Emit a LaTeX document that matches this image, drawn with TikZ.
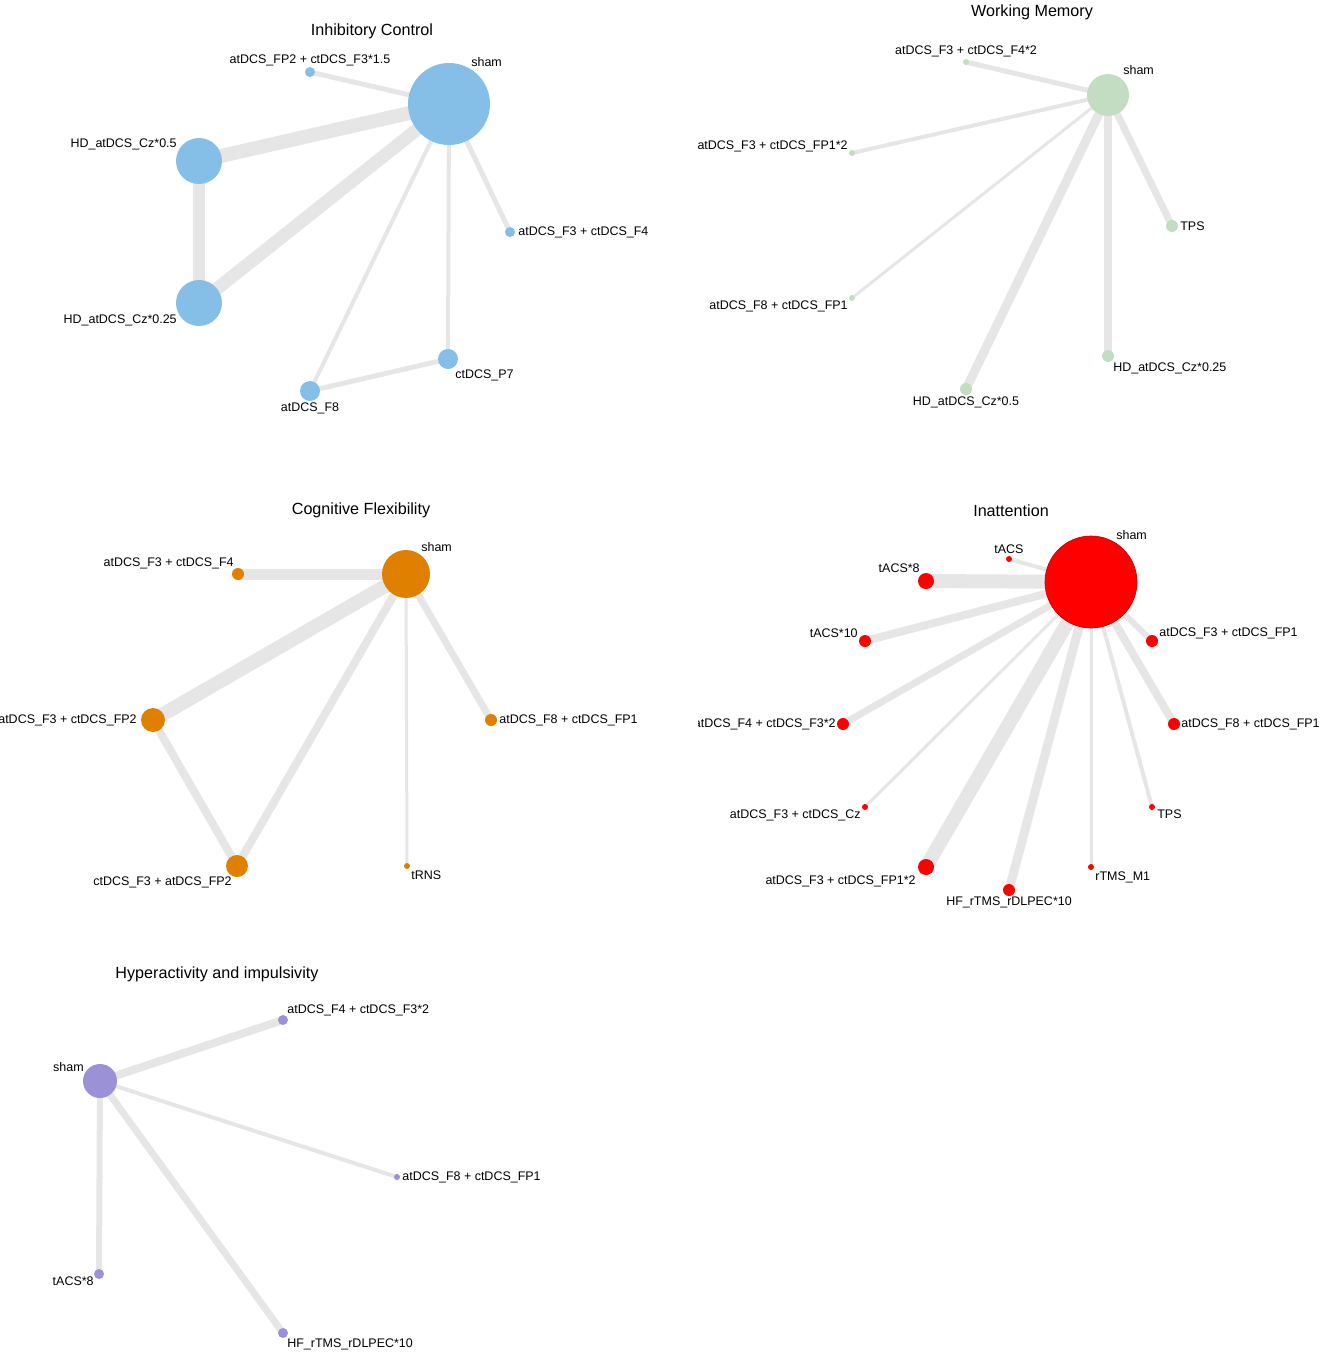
\documentclass[tikz,border=0pt]{standalone}
\usepackage{fontspec}
\setmainfont{Liberation Sans}
\usepackage{xcolor}
\definecolor{icblue}{HTML}{85BFE8}
\definecolor{wmgreen}{HTML}{C2DDC2}
\definecolor{cforange}{HTML}{E08000}
\definecolor{inred}{HTML}{FF0000}
\definecolor{hipurple}{HTML}{9A91D6}
\definecolor{edgegray}{HTML}{E6E6E6}
\usetikzlibrary{backgrounds}
\tikzset{
  dot/.style    ={circle,inner sep=0pt,minimum size=#1*0.04cm},
  icnode/.style ={dot=#1,fill=icblue},
  wmnode/.style ={dot=#1,fill=wmgreen},
  cfnode/.style ={dot=#1,fill=cforange},
  innode/.style ={dot=#1,fill=inred},
  hinode/.style ={dot=#1,fill=hipurple},
  link/.style   ={draw=edgegray,line width=#1*0.02cm},
  lbl/.style    ={font=\fontsize{7.1}{8.5}\selectfont,inner sep=0pt},
  ttl/.style    ={font=\fontsize{9.2}{11}\selectfont,inner sep=0pt},
}

\begin{document}
\begin{tikzpicture}[x=0.02cm,y=-0.02cm]
\useasboundingbox (0,0) rectangle (1325,1360);
% Inhibitory Control
\node[ttl] (ictitle) at (372,31) {Inhibitory Control};
\node[icnode=41] (icsham) at (449,104) {};
\node[icnode=5]  (icfp2)  at (310,72) {};
\node[icnode=23] (ichda)  at (199,161) {};
\node[icnode=23] (ichdb)  at (199,303) {};
\node[icnode=5]  (icff)   at (510,232) {};
\node[icnode=10] (icpseven) at (448,359) {};
\node[icnode=10] (icfeight) at (310,391) {};
\node[lbl,anchor=west] (icshaml) at (471,62) {sham};
\node[lbl] (icfp2l) at (310,60) {atDCS\_FP2 + ctDCS\_F3*1.5};
\node[lbl,anchor=east] (ichdal) at (177,144) {HD\_atDCS\_Cz*0.5};
\node[lbl,anchor=east] (ichdbl) at (177,320) {HD\_atDCS\_Cz*0.25};
\node[lbl,anchor=west] (icffl) at (518,232) {atDCS\_F3 + ctDCS\_F4};
\node[lbl,anchor=west] (icpsevenl) at (455,375) {ctDCS\_P7};
\node[lbl] (icfeightl) at (310,408) {atDCS\_F8};
\begin{scope}[on background layer]
\draw[link=5]  (icsham.center) -- (icfp2.center);
\draw[link=14] (icsham.center) -- (ichda.center);
\draw[link=13] (icsham.center) -- (ichdb.center);
\draw[link=12] (ichda.center) -- (ichdb.center);
\draw[link=5]  (icsham.center) -- (icff.center);
\draw[link=4]  (icsham.center) -- (icpseven.center);
\draw[link=4]  (icsham.center) -- (icfeight.center);
\draw[link=5]  (icfeight.center) -- (icpseven.center);
\end{scope}

% Working Memory
\node[ttl] (wmtitle) at (1032,12) {Working Memory};
\node[wmnode=21] (wmsham) at (1108,95) {};
\node[wmnode=3]  (wmff)   at (966,62) {};
\node[wmnode=3]  (wmfpa)  at (852,153) {};
\node[wmnode=3]  (wmfeight) at (852,298) {};
\node[wmnode=6]  (wmhda)  at (966,389) {};
\node[wmnode=6]  (wmhdb)  at (1108,356) {};
\node[wmnode=6]  (wmtps)  at (1172,226) {};
\node[lbl,anchor=west] (wmshaml) at (1123,70) {sham};
\node[lbl] (wmffl) at (966,51) {atDCS\_F3 + ctDCS\_F4*2};
\node[lbl,anchor=east] (wmfpal) at (848,146) {atDCS\_F3 + ctDCS\_FP1*2};
\node[lbl,anchor=east] (wmfeightl) at (848,306) {atDCS\_F8 + ctDCS\_FP1};
\node[lbl] (wmhdal) at (966,402) {HD\_atDCS\_Cz*0.5};
\node[lbl,anchor=west] (wmhdbl) at (1113,368) {HD\_atDCS\_Cz*0.25};
\node[lbl,anchor=west] (wmtpsl) at (1180,226) {TPS};
\begin{scope}[on background layer]
\draw[link=5] (wmsham.center) -- (wmff.center);
\draw[link=4] (wmsham.center) -- (wmfpa.center);
\draw[link=3] (wmsham.center) -- (wmfeight.center);
\draw[link=9] (wmsham.center) -- (wmhda.center);
\draw[link=8] (wmsham.center) -- (wmhdb.center);
\draw[link=7] (wmsham.center) -- (wmtps.center);
\end{scope}

% Cognitive Flexibility
\node[ttl] (cftitle) at (361,510) {Cognitive Flexibility};
\node[cfnode=24] (cfsham) at (406,574) {};
\node[cfnode=6]  (cfff)   at (238,574) {};
\node[cfnode=12] (cffp)   at (153,720) {};
\node[cfnode=11] (cfct)   at (237,866) {};
\node[cfnode=6]  (cffeight) at (491,720) {};
\node[cfnode=3]  (cftrns) at (407,866) {};
\node[lbl,anchor=west] (cfshaml) at (421,547) {sham};
\node[lbl,anchor=east] (cfffl) at (234,563) {atDCS\_F3 + ctDCS\_F4};
\node[lbl,anchor=east] (cffpl) at (137,720) {atDCS\_F3 + ctDCS\_FP2};
\node[lbl,anchor=east] (cfctl) at (232,882) {ctDCS\_F3 + atDCS\_FP2};
\node[lbl,anchor=west] (cffeightl) at (499,720) {atDCS\_F8 + ctDCS\_FP1};
\node[lbl,anchor=west] (cftrnsl) at (411,875) {tRNS};
\begin{scope}[on background layer]
\draw[link=11] (cfsham.center) -- (cfff.center);
\draw[link=14] (cfsham.center) -- (cffp.center);
\draw[link=8]  (cfsham.center) -- (cfct.center);
\draw[link=3]  (cfsham.center) -- (cftrns.center);
\draw[link=7]  (cfsham.center) -- (cffeight.center);
\draw[link=8]  (cffp.center) -- (cfct.center);
\end{scope}

% Inattention
\begin{scope}
\clip (698,490) rectangle (1325,930);
\node[ttl] (intitle) at (1011,511) {Inattention};
\node[innode=46,draw=red!80!black,line width=0.4pt] (insham) at (1091,582) {};
\node[innode=3]  (intacs) at (1009,559) {};
\node[innode=8]  (intacsa) at (926,581) {};
\node[innode=6]  (intacsb) at (865,641) {};
\node[innode=6]  (inff)   at (843,724) {};
\node[innode=3]  (incz)   at (865,807) {};
\node[innode=8]  (infpa)  at (926,867) {};
\node[innode=6]  (inhf)   at (1009,890) {};
\node[innode=3]  (inrtms) at (1091,867) {};
\node[innode=3]  (intps)  at (1152,807) {};
\node[innode=6]  (infeight) at (1174,724) {};
\node[innode=6]  (inffp)  at (1152,641) {};
\node[lbl,anchor=west] (inshaml) at (1116,535) {sham};
\node[lbl] (intacsl) at (1009,549) {tACS};
\node[lbl,anchor=east] (intacsal) at (920,568) {tACS*8};
\node[lbl,anchor=east] (intacsbl) at (858,633) {tACS*10};
\node[lbl,anchor=east] (inffl) at (836,724) {atDCS\_F4 + ctDCS\_F3*2};
\node[lbl,anchor=east] (inczl) at (861,815) {atDCS\_F3 + ctDCS\_Cz};
\node[lbl,anchor=east] (infpal) at (916,881) {atDCS\_F3 + ctDCS\_FP1*2};
\node[lbl] (inhfl) at (1009,902) {HF\_rTMS\_rDLPEC*10};
\node[lbl,anchor=west] (inrtmsl) at (1095,877) {rTMS\_M1};
\node[lbl,anchor=west] (intpsl) at (1157,814) {TPS};
\node[lbl,anchor=west] (infeightl) at (1181,724) {atDCS\_F8 + ctDCS\_FP1};
\node[lbl,anchor=west] (inffpl) at (1159,633) {atDCS\_F3 + ctDCS\_FP1};
\end{scope}
\begin{scope}[on background layer]
\draw[link=4]  (insham.center) -- (intacs.center);
\draw[link=14] (insham.center) -- (intacsa.center);
\draw[link=8]  (insham.center) -- (intacsb.center);
\draw[link=7]  (insham.center) -- (inff.center);
\draw[link=3]  (insham.center) -- (incz.center);
\draw[link=14] (insham.center) -- (infpa.center);
\draw[link=9]  (insham.center) -- (inhf.center);
\draw[link=3]  (insham.center) -- (inrtms.center);
\draw[link=4]  (insham.center) -- (intps.center);
\draw[link=8]  (insham.center) -- (infeight.center);
\draw[link=6]  (insham.center) -- (inffp.center);
\end{scope}

% Hyperactivity and impulsivity
\node[ttl] (hititle) at (217,974) {Hyperactivity and impulsivity};
\node[hinode=17] (hisham) at (100,1081) {};
\node[hinode=5]  (hiff)   at (283,1020) {};
\node[hinode=3]  (hifeight) at (397,1177) {};
\node[hinode=5]  (hitacs) at (99,1274) {};
\node[hinode=5]  (hihf)   at (283,1333) {};
\node[lbl,anchor=east] (hishaml) at (84,1067) {sham};
\node[lbl,anchor=west] (hiffl) at (287,1010) {atDCS\_F4 + ctDCS\_F3*2};
\node[lbl,anchor=west] (hifeightl) at (402,1177) {atDCS\_F8 + ctDCS\_FP1};
\node[lbl,anchor=east] (hitacsl) at (94,1281) {tACS*8};
\node[lbl,anchor=west] (hihfl) at (287,1344) {HF\_rTMS\_rDLPEC*10};
\begin{scope}[on background layer]
\draw[link=8] (hisham.center) -- (hiff.center);
\draw[link=4] (hisham.center) -- (hifeight.center);
\draw[link=6] (hisham.center) -- (hitacs.center);
\draw[link=7] (hisham.center) -- (hihf.center);
\end{scope}
\end{tikzpicture}
\end{document}
